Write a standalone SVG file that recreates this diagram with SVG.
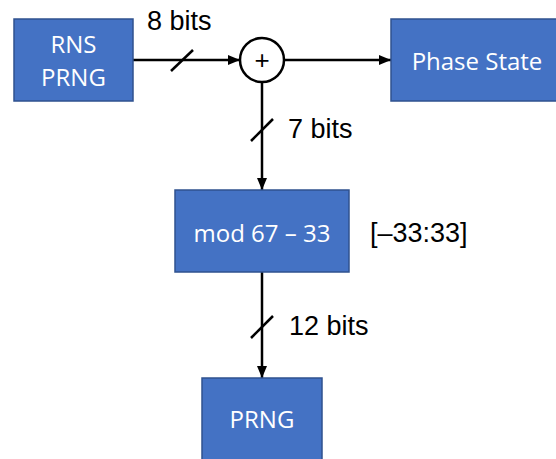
<svg xmlns="http://www.w3.org/2000/svg" width="556" height="459" viewBox="0 0 556 459">
<style>
.box{fill:#4472C4;stroke:#2F528F;stroke-width:1.5}
.bt{font-family:"Open Sans","Noto Sans",sans-serif;font-size:24px;fill:#fff;text-anchor:middle}
.lbl{font-family:"Liberation Sans",Arial,sans-serif;font-size:27px;fill:#000}
.ln{stroke:#000;stroke-width:2.5;fill:none}
</style>
<defs>
<marker id="ah" viewBox="0 0 12 10" refX="12" refY="5" markerWidth="12" markerHeight="10" markerUnits="userSpaceOnUse" orient="auto">
<path d="M0,0 L12,5 L0,10 Z" fill="#000"/>
</marker>
</defs>
<g id="connectors">
<line class="ln" x1="133" y1="60" x2="240" y2="60" marker-end="url(#ah)"/>
<line class="ln" x1="171" y1="71" x2="193" y2="50"/>
<line class="ln" x1="284" y1="60" x2="391" y2="60" marker-end="url(#ah)"/>
<line class="ln" x1="262" y1="82" x2="262" y2="190" marker-end="url(#ah)"/>
<line class="ln" x1="251" y1="141" x2="273" y2="119"/>
<line class="ln" x1="262" y1="272" x2="262" y2="378" marker-end="url(#ah)"/>
<line class="ln" x1="251" y1="338" x2="273" y2="316"/>
<text class="lbl" x="147" y="30">8 bits</text>
<text class="lbl" x="288" y="138">7 bits</text>
<text class="lbl" x="289" y="335">12 bits</text>
</g>
<g id="rns-prng">
<rect class="box" x="14" y="19" width="119" height="82"/>
<text class="bt" x="73.5" y="53">RNS</text>
<text class="bt" x="73.5" y="86">PRNG</text>
</g>
<g id="adder">
<circle cx="262" cy="60" r="22" fill="#fff" stroke="#000" stroke-width="2.5"/>
<text x="262" y="69" font-family="Liberation Sans,Arial,sans-serif" font-size="26" text-anchor="middle">+</text>
</g>
<g id="phase-state">
<rect class="box" x="391" y="19" width="170" height="82"/>
<text class="bt" x="477" y="70">Phase State</text>
</g>
<g id="mod">
<rect class="box" x="175" y="190" width="174" height="82"/>
<text class="bt" x="262" y="242">mod 67 – 33</text>
<text class="lbl" x="370" y="242">[–33:33]</text>
</g>
<g id="prng">
<rect class="box" x="202" y="378" width="120" height="90"/>
<text class="bt" x="262" y="428">PRNG</text>
</g>
</svg>
